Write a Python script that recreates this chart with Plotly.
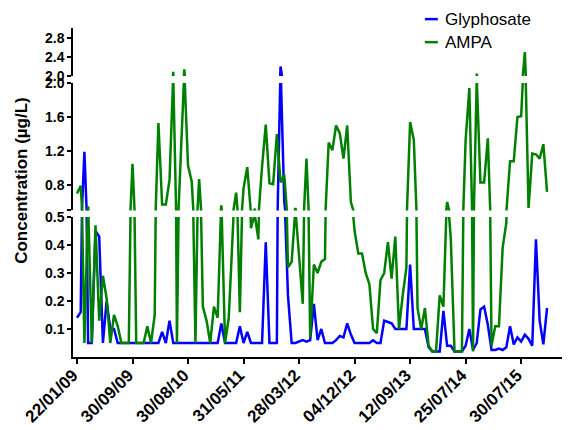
import plotly.graph_objects as go

# sample dates shown on the x axis (one label every 15 samples)
date_labels = ['22/01/09', '30/09/09', '30/08/10', '31/05/11', '28/03/12',
               '04/12/12', '12/09/13', '25/07/14', '30/07/15']

# concentrations (µg/L), one value per sample
glyphosate = [
    0.14, 0.16, 1.19, 0.05, 0.05, 0.45, 0.43, 0.05, 0.20, 0.10,
    0.10, 0.05, 0.05, 0.05, 0.05, 0.05, 0.05, 0.05, 0.05, 0.05,
    0.05, 0.05, 0.05, 0.09, 0.05, 0.13, 0.05, 0.05, 0.05, 0.05,
    0.05, 0.05, 0.05, 0.05, 0.05, 0.05, 0.05, 0.05, 0.05, 0.12,
    0.05, 0.05, 0.05, 0.05, 0.11, 0.05, 0.09, 0.05, 0.05, 0.05,
    0.05, 0.41, 0.05, 0.05, 0.05, 2.20, 0.60, 0.22, 0.05, 0.05,
    0.055, 0.06, 0.055, 0.06, 0.19, 0.06, 0.10, 0.05, 0.05, 0.05,
    0.06, 0.075, 0.07, 0.12, 0.08, 0.05, 0.05, 0.05, 0.05, 0.05,
    0.06, 0.05, 0.05, 0.13, 0.125, 0.12, 0.10, 0.10, 0.10, 0.10,
    0.33, 0.10, 0.10, 0.10, 0.10, 0.035, 0.02, 0.02, 0.02, 0.165,
    0.04, 0.04, 0.02, 0.02, 0.02, 0.04, 0.10, 0.025, 0.05, 0.17,
    0.18, 0.115, 0.025, 0.025, 0.03, 0.025, 0.035, 0.11, 0.045, 0.07,
    0.055, 0.08, 0.065, 0.04, 0.42, 0.13, 0.045, 0.175,
]

ampa = [
    0.70, 0.79, 0.05, 0.55, 0.05, 0.47, 0.13, 0.29, 0.21, 0.05,
    0.15, 0.11, 0.05, 0.05, 0.05, 1.05, 0.05, 0.05, 0.05, 0.11,
    0.05, 0.15, 1.53, 0.57, 0.57, 0.86, 2.09, 0.05, 1.00, 2.14,
    1.03, 0.84, 0.05, 0.87, 0.18, 0.13, 0.05, 0.18, 0.14, 0.56,
    0.05, 0.14, 0.42, 0.71, 0.16, 0.76, 1.01, 0.46, 0.51, 0.42,
    1.02, 1.51, 0.82, 0.81, 1.40, 0.83, 0.92, 0.32, 0.34, 0.53,
    0.36, 0.19, 1.11, 0.07, 0.33, 0.30, 0.34, 0.35, 1.30, 1.21,
    1.50, 1.41, 1.11, 1.50, 0.60, 0.45, 0.37, 0.37, 0.30, 0.26,
    0.10, 0.085, 0.275, 0.30, 0.41, 0.28, 0.43, 0.10, 0.22, 0.32,
    1.54, 1.33, 0.175, 0.10, 0.175, 0.04, 0.02, 0.02, 0.22, 0.18,
    0.60, 0.42, 0.02, 0.02, 0.02, 1.33, 1.94, 0.02, 2.05, 0.83,
    0.83, 1.35, 0.04, 0.11, 0.11, 0.39, 0.48, 1.08, 1.08, 1.60,
    1.61, 2.50, 0.53, 1.17, 1.16, 1.11, 1.28, 0.72,
]

sample_idx = list(range(len(glyphosate)))
tick_pos = list(range(0, len(glyphosate), 15))[:len(date_labels)]

FONT = 'Liberation Sans, Arial, sans-serif'

fig = go.Figure()

# broken y axis: every series is drawn once in each of the three panels
series = [('Glyphosate', glyphosate, '#0000FF'), ('AMPA', ampa, '#008000')]
for name, vals, color in series:
    for yax in ['y', 'y2', 'y3']:
        fig.add_trace(go.Scatter(
            x=sample_idx, y=vals, yaxis=yax,
            mode='lines', name=name,
            line=dict(color=color, width=2.5),
            showlegend=False,
        ))

# hand-made legend (short line keys) so it doesn't push the margins
legend_y = [1.027, 0.957]
for (name, _, color), ly in zip(series, legend_y):
    fig.add_shape(type='line', xref='paper', yref='paper',
                  x0=0.708, x1=0.734, y0=ly, y1=ly,
                  line=dict(color=color, width=2.5))
    fig.add_annotation(text=name, xref='paper', yref='paper',
                       x=0.744, y=ly, xanchor='left', yanchor='middle',
                       showarrow=False,
                       font=dict(family=FONT, size=17, color='black'))

axis_common = dict(
    showline=True, linecolor='black', linewidth=1.5,
    ticks='outside', ticklen=4, tickwidth=1.5, tickcolor='black',
    showgrid=False, zeroline=False, tickformat='.1f',
    tickfont=dict(family=FONT, size=14, color='black', weight='bold'),
    anchor='x',
)

# the page body has an 8px margin, so the figure is 8px smaller each way
fig.update_layout(
    width=562, height=422,
    margin=dict(l=65, r=0, t=20, b=73),
    plot_bgcolor='white', paper_bgcolor='white',
    font=dict(family=FONT, color='black'),
    showlegend=False,
    xaxis=dict(
        range=[-1.08, 133.2],
        tickvals=tick_pos, ticktext=date_labels, tickangle=-45,
        showline=True, linecolor='black', linewidth=1.5,
        ticks='outside', ticklen=5, tickwidth=1.5, tickcolor='black',
        showgrid=False, zeroline=False, automargin=False,
        ticklabelstandoff=-5, ticklabelshift=-4,
        tickfont=dict(family=FONT, size=17, color='black', weight='bold'),
        anchor='y',
    ),
    yaxis=dict(domain=[0, 0.4255], range=[0, 0.5],
               tickvals=[0.1, 0.2, 0.3, 0.4, 0.5], **axis_common),
    yaxis2=dict(domain=[0.4453, 0.8328], range=[0.5, 2.0],
                tickvals=[0.5, 0.8, 1.2, 1.6, 2.0],
                ticktext=['', '0.8', '1.2', '1.6', '2.0'], **axis_common),
    yaxis3=dict(domain=[0.854, 1.0], range=[2.0, 3.0],
                tickvals=[2.0, 2.4, 2.8], **axis_common),
)

fig.add_annotation(
    text='<b>Concentration (µg/L)</b>',
    xref='paper', yref='paper', x=-0.103, y=0.538,
    xanchor='center', yanchor='middle', textangle=-90,
    showarrow=False, font=dict(family=FONT, size=17, color='black'),
)

fig.write_html('out.html')
